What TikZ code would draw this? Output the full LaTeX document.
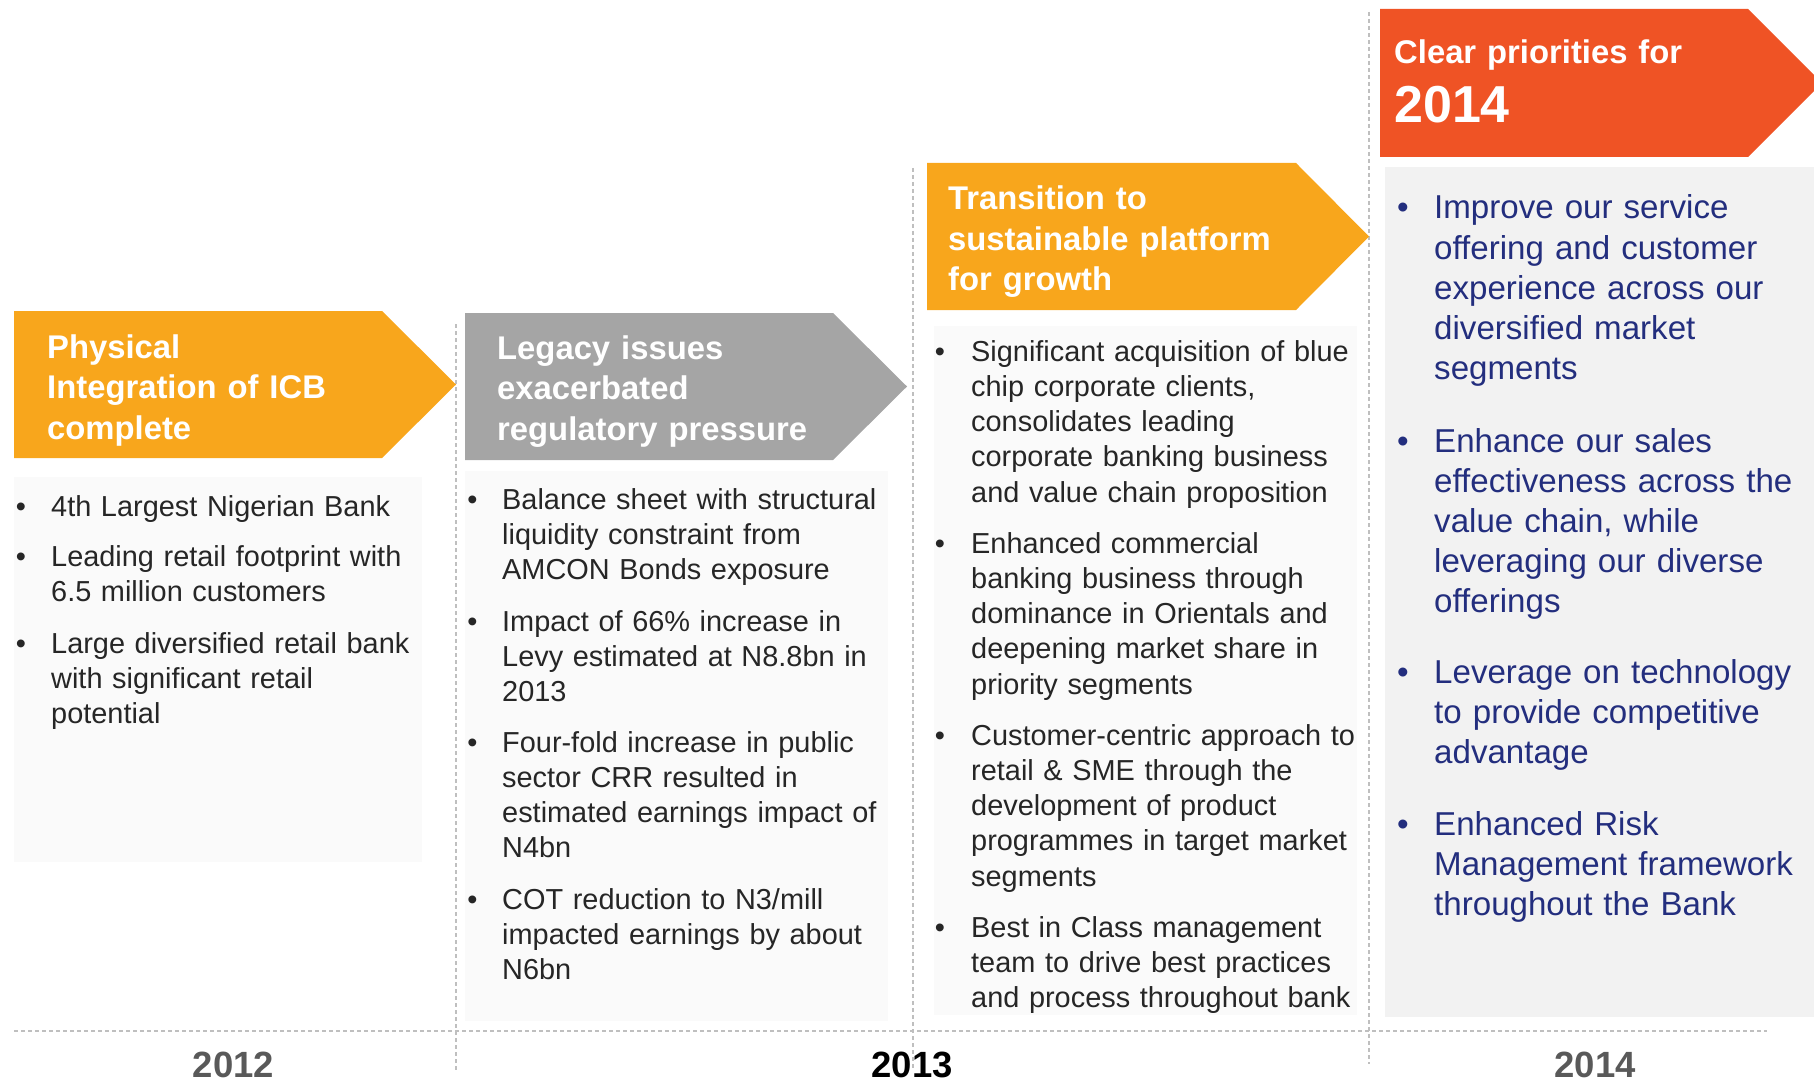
\documentclass[tikz,border=0pt]{standalone}
\usepackage{fontspec}
\setmainfont{Liberation Sans}
\definecolor{orangec}{HTML}{F8A61C}
\definecolor{redc}{HTML}{EF5325}
\definecolor{grayarrow}{HTML}{A5A5A5}
\definecolor{boxlight}{HTML}{FAFAFA}
\definecolor{boxdark}{HTML}{F2F2F2}
\definecolor{bluec}{HTML}{232E7E}
\definecolor{bodyc}{HTML}{262626}
\definecolor{yearc}{HTML}{595959}
\definecolor{dashc}{HTML}{BFBFBF}
\tikzset{
  body/.style={anchor=base west, inner sep=0pt, text width=430pt, align=left,
    font=\fontsize{28.9}{35.3}\selectfont, text=bodyc},
  bul/.style={anchor=base, inner sep=0pt, font=\fontsize{28.9}{35.3}\selectfont, text=bodyc},
  bluebody/.style={body, font=\fontsize{33.1}{40.2}\selectfont, text=bluec},
  bluebul/.style={bul, font=\fontsize{33.1}{40.2}\selectfont, text=bluec},
  head/.style={anchor=base west, inner sep=0pt, text width=420pt, align=left,
    font=\bfseries\fontsize{32.8}{40.5}\selectfont, text=white},
  year/.style={anchor=base, inner sep=0pt, font=\bfseries\fontsize{36.5}{40}\selectfont, text=yearc},
  dline/.style={draw=dashc, line width=1.2pt, dash pattern=on 4pt off 3pt},
}
\begin{document}
\begin{tikzpicture}[x=1pt,y=-1pt]
\useasboundingbox (0,0) rectangle (1814,1083);
\clip (0,0) rectangle (1814,1083);
% content boxes
\fill[boxlight] (14,477) rectangle (422,862);
\fill[boxlight] (465,471) rectangle (888,1021);
\fill[boxlight] (934,326) rectangle (1357,1015);
\fill[boxdark] (1385,167) rectangle (1814,1017);
% dashed separators
\coordinate (v1t) at (456,324); \coordinate (v1b) at (456,1070);
\coordinate (v2t) at (913,168); \coordinate (v2b) at (913,1070);
\coordinate (v3t) at (1369,12); \coordinate (v3b) at (1369,1064);
\coordinate (hl) at (14,1031); \coordinate (hr) at (1767,1031);
\draw[dline] (v1t) -- (v1b);
\draw[dline] (v2t) -- (v2b);
\draw[dline] (v3t) -- (v3b);
\draw[dline] (hl) -- (hr);
% header arrows
\fill[orangec] (14,311) -- (382,311) -- (456,384.5) -- (382,458) -- (14,458) -- cycle;
\fill[grayarrow] (465,313) -- (833,313) -- (907,386.5) -- (833,460) -- (465,460) -- cycle;
\fill[orangec] (927,163) -- (1296,163) -- (1369,236.5) -- (1296,310) -- (927,310) -- cycle;
\fill[redc] (1380,9) -- (1748,9) -- (1822,83) -- (1748,157) -- (1380,157) -- cycle;
% header texts
\node[head] (h1) at (47,358) {Physical\\Integration of ICB\\complete};
\node[head] (h2) at (497,359) {Legacy issues\\exacerbated\\regulatory pressure};
\node[head] (h3) at (948,210) {Transition to\\sustainable platform\\for growth};
\node[head] (h4) at (1394,64) {Clear priorities for};
\node[head, font=\bfseries\fontsize{52}{60}\selectfont] (h4y) at (1394,123) {2014};
% box 1
\node[bul] (b1a) at (21,516) {•};
\node[body] (t1a) at (51,516) {4th Largest Nigerian Bank};
\node[bul] (b1b) at (21,566.5) {•};
\node[body] (t1b) at (51,566.5) {Leading retail footprint with\\6.5 million customers};
\node[bul] (b1c) at (21,653) {•};
\node[body] (t1c) at (51,653) {Large diversified retail bank\\with significant retail\\potential};
% box 2
\node[bul] (b2a) at (472.5,509) {•};
\node[body] (t2a) at (502,509) {Balance sheet with structural\\liquidity constraint from\\AMCON Bonds exposure};
\node[bul] (b2b) at (472.5,631) {•};
\node[body] (t2b) at (502,631) {Impact of 66\% increase in\\Levy estimated at N8.8bn in\\2013};
\node[bul] (b2c) at (472.5,752) {•};
\node[body] (t2c) at (502,752) {Four-fold increase in public\\sector CRR resulted in\\estimated earnings impact of\\N4bn};
\node[bul] (b2d) at (472.5,909) {•};
\node[body] (t2d) at (502,909) {COT reduction to N3/mill\\impacted earnings by about\\N6bn};
% box 3
\node[bul] (b3a) at (940,361) {•};
\node[body] (t3a) at (971,361) {Significant acquisition of blue\\chip corporate clients,\\consolidates leading\\corporate banking business\\and value chain proposition};
\node[bul] (b3b) at (940,553) {•};
\node[body] (t3b) at (971,553) {Enhanced commercial\\banking business through\\dominance in Orientals and\\deepening market share in\\priority segments};
\node[bul] (b3c) at (940,745) {•};
\node[body] (t3c) at (971,745) {Customer-centric approach to\\retail \& SME through the\\development of product\\programmes in target market\\segments};
\node[bul] (b3d) at (940,937) {•};
\node[body] (t3d) at (971,937) {Best in Class management\\team to drive best practices\\and process throughout bank};
% box 4
\node[bluebul] (b4a) at (1403,219) {•};
\node[bluebody] (t4a) at (1434,219) {Improve our service\\offering and customer\\experience across our\\diversified market\\segments};
\node[bluebul] (b4b) at (1403,452) {•};
\node[bluebody] (t4b) at (1434,452) {Enhance our sales\\effectiveness across the\\value chain, while\\leveraging our diverse\\offerings};
\node[bluebul] (b4c) at (1403,683) {•};
\node[bluebody] (t4c) at (1434,683) {Leverage on technology\\to provide competitive\\advantage};
\node[bluebul] (b4d) at (1403,835) {•};
\node[bluebody] (t4d) at (1434,835) {Enhanced Risk\\Management framework\\throughout the Bank};
% years
\node[year] (y12) at (233.5,1077) {2012};
\node[year, text=black] (y13) at (912,1077) {2013};
\node[year] (y14) at (1595,1077) {2014};
\end{tikzpicture}
\end{document}
